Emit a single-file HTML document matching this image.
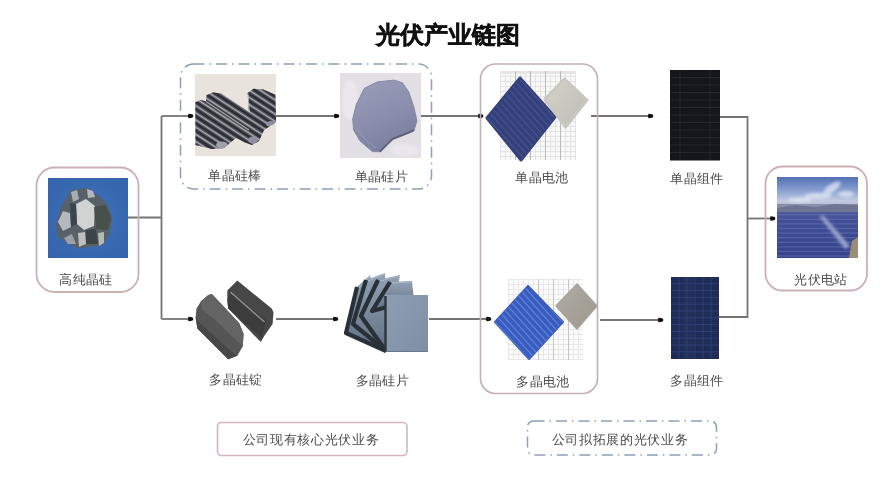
<!DOCTYPE html>
<html><head><meta charset="utf-8">
<style>
html,body{margin:0;padding:0;background:#fff;width:892px;height:486px;overflow:hidden}
#wrap{position:absolute;left:0;top:0;width:892px;height:486px;filter:blur(0.5px)}
svg{position:absolute;left:0;top:0}
.lb{position:absolute;font-family:"Liberation Serif",serif;font-size:13.4px;color:#4c4c4c;letter-spacing:0.4px;white-space:nowrap;transform:translateX(-50%);line-height:1}
.tt{position:absolute;font-family:"Liberation Sans",sans-serif;font-size:24px;font-weight:bold;color:#111;white-space:nowrap;line-height:1;-webkit-text-stroke:0.5px #111}
</style></head><body><div id="wrap">
<svg width="892" height="486" viewBox="0 0 892 486">
<defs>
  <marker id="ar" viewBox="0 0 10 10" refX="9" refY="5" markerWidth="6.5" markerHeight="6.5" markerUnits="userSpaceOnUse" orient="auto"><path d="M2,1.6 Q9.5,1.6 9.5,5 Q9.5,8.4 2,8.4 Q0.5,5 2,1.6z" fill="#111"/></marker>
  <pattern id="grid" width="4" height="6" patternUnits="userSpaceOnUse"><rect width="4" height="6" fill="#f0f0ee"/><path d="M0,0V6M0,0H4" stroke="#c8c8cc" stroke-width="0.8"/></pattern>
  <linearGradient id="sky" x1="0" y1="0" x2="0" y2="1">
    <stop offset="0" stop-color="#5b78b6"/><stop offset="0.55" stop-color="#b9c3dc"/><stop offset="0.68" stop-color="#8a90a8"/><stop offset="1" stop-color="#3c4b8c"/>
  </linearGradient>
</defs>
<!-- lines -->
<g stroke="#747474" stroke-width="1.8" fill="none">
  <path d="M128,217.5 H161.5 M161.5,116 V319"/>
  <path d="M161.5,116 H193" marker-end="url(#ar)"/>
  <path d="M161.5,319 H193" marker-end="url(#ar)"/>
  <path d="M276,116 H339" marker-end="url(#ar)"/>
  <path d="M421,116 H483" marker-end="url(#ar)"/>
  <path d="M591,116 H653" marker-end="url(#ar)"/>
  <path d="M720,117 H747.5 V317 H719"/>
  <path d="M276,319 H338" marker-end="url(#ar)"/>
  <path d="M429,319 H491" marker-end="url(#ar)"/>
  <path d="M600,320 H663" marker-end="url(#ar)"/>
  <path d="M747.5,218.5 H775" marker-end="url(#ar)"/>
</g>
<!-- boxes -->
<rect x="36.5" y="167.5" width="102" height="124.5" rx="18" fill="none" stroke="#ccb0b4" stroke-width="1.8"/>
<rect x="765.5" y="166.5" width="101.5" height="124" rx="17" fill="none" stroke="#ccb0b4" stroke-width="1.8"/>
<rect x="480.5" y="64" width="117" height="329.5" rx="15" fill="none" stroke="#c6aeb5" stroke-width="1.6"/>
<rect x="180.5" y="64" width="251" height="125" rx="13" fill="none" stroke="#8fa0b8" stroke-width="1.5" stroke-dasharray="11,5,1.5,5"/>
<rect x="217.5" y="422.5" width="189.5" height="33" rx="4" fill="none" stroke="#d6b6bc" stroke-width="1.6"/>
<rect x="527.5" y="421" width="189" height="34" rx="6" fill="none" stroke="#8fa0b8" stroke-width="1.5" stroke-dasharray="11,5,1.5,5"/>

<!-- 高纯晶硅 -->
<g>
  <radialGradient id="bl" cx="0.5" cy="0.5" r="0.7"><stop offset="0" stop-color="#3f72ba"/><stop offset="1" stop-color="#3464aa"/></radialGradient>
  <rect x="48" y="178" width="80" height="80" fill="url(#bl)"/>
  <polygon points="56.3,225.2 60.6,207.9 70.7,190.6 88,187.8 99.6,196.4 106.8,203.6 112.5,218 109.6,233.9 102.4,245.4 77.9,248.3 66.4,242.5 57.8,236.8" fill="#586068"/>
  <polygon points="76,204 86,199 95,206 94,226 84,230 77,224" fill="#cfd3d2"/>
  <polygon points="58,222 63,211 70,213 71,227 63,231" fill="#b4b9be"/>
  <polygon points="78,233 85,232 86,244 79,247" fill="#bcc0bc"/>
  <polygon points="98,233 104,232 104,243 99,246" fill="#b4bab4"/>
  <polygon points="71,192 77,190 79,199 73,202" fill="#a8acb4"/>
  <polygon points="87,189 93,191 95,197 88,198" fill="#b4b8be"/>
  <polygon points="94,207 106,205 111,218 108,230 96,229" fill="#47504a"/>
  <polygon points="64,238 72,234 76,244 68,244" fill="#9aa0a6"/>
  <polygon points="70,203 76,204 77,224 71,227" fill="#3c4450"/>
  <polygon points="86,230 96,229 98,244 86,244" fill="#3c4448"/>
</g>
<!-- mono rods -->
<g>
  <rect x="195" y="74" width="81" height="82" fill="#e8e3dd"/>
  <clipPath id="rodclip"><polygon points="195.4,102.2 201,100 206,101.5 206.6,95.2 213,92.5 221,93.5 249,112 247.6,93 253.6,88.7 263.1,89.6 275.2,94.7 276.1,122 270,126 264,130 259,141 252,145 244,142 236,138 231,142 224,148 212,149 195.6,145"/></clipPath>
  <g clip-path="url(#rodclip)">
    <rect x="190" y="85" width="90" height="70" fill="#5c5c64"/>
    <g stroke="#2e2e36" stroke-width="2.6" transform="rotate(33 235 118)"><line x1="150" y1="72" x2="320" y2="72"/><line x1="150" y1="78" x2="320" y2="78"/><line x1="150" y1="84" x2="320" y2="84"/><line x1="150" y1="90" x2="320" y2="90"/><line x1="150" y1="96" x2="320" y2="96"/><line x1="150" y1="102" x2="320" y2="102"/><line x1="150" y1="108" x2="320" y2="108"/><line x1="150" y1="114" x2="320" y2="114"/><line x1="150" y1="120" x2="320" y2="120"/><line x1="150" y1="126" x2="320" y2="126"/><line x1="150" y1="132" x2="320" y2="132"/><line x1="150" y1="138" x2="320" y2="138"/><line x1="150" y1="144" x2="320" y2="144"/><line x1="150" y1="150" x2="320" y2="150"/><line x1="150" y1="156" x2="320" y2="156"/><line x1="150" y1="162" x2="320" y2="162"/></g>
    <g stroke="#b0b0ba" stroke-width="1.1" transform="rotate(33 235 118)"><line x1="150" y1="75" x2="320" y2="75"/><line x1="150" y1="81" x2="320" y2="81"/><line x1="150" y1="87" x2="320" y2="87"/><line x1="150" y1="93" x2="320" y2="93"/><line x1="150" y1="99" x2="320" y2="99"/><line x1="150" y1="105" x2="320" y2="105"/><line x1="150" y1="111" x2="320" y2="111"/><line x1="150" y1="117" x2="320" y2="117"/><line x1="150" y1="123" x2="320" y2="123"/><line x1="150" y1="129" x2="320" y2="129"/><line x1="150" y1="135" x2="320" y2="135"/><line x1="150" y1="141" x2="320" y2="141"/><line x1="150" y1="147" x2="320" y2="147"/><line x1="150" y1="153" x2="320" y2="153"/><line x1="150" y1="159" x2="320" y2="159"/><line x1="150" y1="165" x2="320" y2="165"/></g>
    <path d="M206,101.5 L249,130" stroke="#e0dcd6" stroke-width="1.4" opacity="0.7"/>
    <path d="M247.6,93 L249,112" stroke="#e0dcd6" stroke-width="1.5" opacity="0.8"/>
    <ellipse cx="222" cy="145" rx="6" ry="3.5" fill="#a0a0aa"/>
    <ellipse cx="253" cy="140" rx="5" ry="3.5" fill="#9090a0"/>
    <ellipse cx="271" cy="124" rx="5" ry="3" fill="#9090a0"/>
  </g>
</g>
<!-- mono wafer -->
<g>
  <rect x="340" y="73" width="81" height="85" fill="#e2e0e4"/>
  <ellipse cx="350" cy="100" rx="8" ry="20" fill="#eae8ec" filter="url(#sb)"/>
  <ellipse cx="405" cy="150" rx="14" ry="6" fill="#eae8ec" filter="url(#sb)"/>
  <linearGradient id="wg" x1="0.2" y1="0" x2="0.6" y2="1"><stop offset="0" stop-color="#989cb8"/><stop offset="0.55" stop-color="#8a8eac"/><stop offset="1" stop-color="#7a7e9e"/></linearGradient>
  <polygon points="364.4,88.3 377.1,82 394.3,80.1 402.5,82.9 408.8,91.9 414.2,108.2 416.9,120.9 414.2,130 408.8,132.6 392.5,139 387.1,144.4 379.8,151.7 372.6,151.7 359.9,140.8 353.6,129.9 352.7,119.1 356.3,104.6" fill="url(#wg)" stroke="#8488a6" stroke-width="1" stroke-linejoin="round"/>
  <polyline points="414.2,130 408.8,132.6 392.5,139 387.1,144.4 379.8,151.7" fill="none" stroke="#5c6078" stroke-width="2" stroke-linejoin="round"/>
  <polyline points="356,128 366,140 376,148" fill="none" stroke="#a4a8c0" stroke-width="0.8" opacity="0.7"/>
</g>
<!-- mono cell -->
<g>
  <pattern id="grid2" x="500" y="76" width="5" height="5" patternUnits="userSpaceOnUse"><rect width="5" height="5" fill="#f8f8f7"/><path d="M0.5,0V5M0,0.5H5" stroke="#e0e0e4" stroke-width="0.8"/></pattern>
  <rect x="500" y="71" width="76" height="89" fill="url(#grid2)"/><rect x="500" y="71" width="76" height="3" fill="#e6e6e6"/>
  <g stroke="#b8b8c0" stroke-width="1"><line x1="515.5" y1="71" x2="515.5" y2="160"/><line x1="530.5" y1="71" x2="530.5" y2="160"/><line x1="545.5" y1="71" x2="545.5" y2="160"/><line x1="560.5" y1="71" x2="560.5" y2="160"/></g>
  <clipPath id="mc"><polygon points="520,78 555,117 521,160 487,118"/></clipPath>
  <polygon points="520,78 555,117 521,160 487,118" fill="#34407a" stroke="#34407a" stroke-width="3" stroke-linejoin="round"/>
  <g clip-path="url(#mc)"><g stroke="#4a5494" stroke-width="1.2" opacity="0.9" transform="rotate(48 521 118)"><line x1="461" y1="78" x2="581" y2="78"/><line x1="461" y1="83" x2="581" y2="83"/><line x1="461" y1="88" x2="581" y2="88"/><line x1="461" y1="93" x2="581" y2="93"/><line x1="461" y1="98" x2="581" y2="98"/><line x1="461" y1="103" x2="581" y2="103"/><line x1="461" y1="108" x2="581" y2="108"/><line x1="461" y1="113" x2="581" y2="113"/><line x1="461" y1="118" x2="581" y2="118"/><line x1="461" y1="123" x2="581" y2="123"/><line x1="461" y1="128" x2="581" y2="128"/><line x1="461" y1="133" x2="581" y2="133"/><line x1="461" y1="138" x2="581" y2="138"/><line x1="461" y1="143" x2="581" y2="143"/><line x1="461" y1="148" x2="581" y2="148"/><line x1="461" y1="153" x2="581" y2="153"/><line x1="461" y1="158" x2="581" y2="158"/></g></g>
  <linearGradient id="gd1" x1="0" y1="0" x2="1" y2="1"><stop offset="0" stop-color="#d4d4cc"/><stop offset="1" stop-color="#bcbcb4"/></linearGradient>
  <polygon points="564.5,79 587,100 565.5,127 545,99" fill="url(#gd1)" stroke="#c8c8c0" stroke-width="3" stroke-linejoin="round"/>
</g>
<!-- mono module -->
<rect x="670" y="70" width="50" height="90.5" fill="#15151c"/><g stroke="#2a2a34" stroke-width="0.8"><line x1="670" y1="77.5" x2="720" y2="77.5"/><line x1="670" y1="85.0" x2="720" y2="85.0"/><line x1="670" y1="92.5" x2="720" y2="92.5"/><line x1="670" y1="100.0" x2="720" y2="100.0"/><line x1="670" y1="107.5" x2="720" y2="107.5"/><line x1="670" y1="115.0" x2="720" y2="115.0"/><line x1="670" y1="122.5" x2="720" y2="122.5"/><line x1="670" y1="130.0" x2="720" y2="130.0"/><line x1="670" y1="137.5" x2="720" y2="137.5"/><line x1="670" y1="145.0" x2="720" y2="145.0"/><line x1="670" y1="152.5" x2="720" y2="152.5"/><line x1="680" y1="70" x2="680" y2="160"/><line x1="710" y1="70" x2="710" y2="160"/></g>
<!-- station -->
<g>
  <filter id="sb" x="-20%" y="-20%" width="140%" height="140%"><feGaussianBlur stdDeviation="1.6"/></filter>
  <clipPath id="stc"><rect x="777" y="177" width="81" height="81"/></clipPath>
  <linearGradient id="sky2" x1="0" y1="0" x2="0" y2="1">
    <stop offset="0" stop-color="#5270b4"/><stop offset="0.5" stop-color="#8ca2d2"/><stop offset="0.85" stop-color="#c2cae2"/><stop offset="1" stop-color="#b4bcd4"/>
  </linearGradient>
  <linearGradient id="pan" x1="0" y1="0" x2="0" y2="1">
    <stop offset="0" stop-color="#4e5a9c"/><stop offset="0.2" stop-color="#424e96"/><stop offset="1" stop-color="#36438a"/>
  </linearGradient>
  <g clip-path="url(#stc)">
  <rect x="777" y="177" width="81" height="28" fill="url(#sky2)"/>
  <g filter="url(#sb)" fill="#e2e8f4" opacity="0.75">
    <ellipse cx="832" cy="188" rx="10" ry="4" transform="rotate(-35 832 188)"/>
    <ellipse cx="818" cy="196" rx="14" ry="3"/>
    <ellipse cx="846" cy="194" rx="8" ry="3"/>
    <ellipse cx="800" cy="200" rx="12" ry="2.5"/>
  </g>
  <rect x="777" y="204" width="81" height="8" fill="#8a90aa"/>
  <path d="M777,208 L795,205 L815,207 L835,204 L858,205 L858,212 L777,212z" fill="#6e7694"/>
  <rect x="777" y="212" width="81" height="46" fill="url(#pan)"/>
  <rect x="777" y="214.0" width="81" height="1.3" fill="#6a78b4" opacity="0.5"/><rect x="777" y="218.6" width="81" height="1.3" fill="#6a78b4" opacity="0.5"/><rect x="777" y="223.2" width="81" height="1.3" fill="#6a78b4" opacity="0.5"/><rect x="777" y="227.8" width="81" height="1.3" fill="#6a78b4" opacity="0.5"/><rect x="777" y="232.4" width="81" height="1.3" fill="#6a78b4" opacity="0.5"/><rect x="777" y="237.0" width="81" height="1.3" fill="#6a78b4" opacity="0.5"/><rect x="777" y="241.6" width="81" height="1.3" fill="#6a78b4" opacity="0.5"/><rect x="777" y="246.2" width="81" height="1.3" fill="#6a78b4" opacity="0.5"/><rect x="777" y="250.8" width="81" height="1.3" fill="#6a78b4" opacity="0.5"/><rect x="777" y="255.4" width="81" height="1.3" fill="#6a78b4" opacity="0.5"/>
  <polygon points="819,216 824,216 850,246 845,249" fill="#a4aed6" opacity="0.85" filter="url(#sb)"/>
  <polygon points="852,241 858,237 858,258 849,258" fill="#9a8e76"/>
  </g>
</g>
<!-- poly ingots -->
<g>
  <polygon points="227.3,290.5 237.3,280.5 271.7,308.6 273.5,312.2 272.6,324 264.4,335.8 260.8,342.1 228.2,308.6 227.3,299.5" fill="#474747"/>
  <polygon points="227.3,299.5 232,292 266,320 262,338 228.2,308.6" fill="#3c3c3c"/>
  <line x1="231" y1="292.5" x2="264" y2="321.5" stroke="#8e8e8e" stroke-width="1.6" stroke-linecap="round"/>
  <polygon points="196.5,308.6 201,301.3 208.3,295 211.9,294.1 239.1,323.1 243.6,333.9 242.7,346.6 237.3,355.7 228.2,359.3 197.4,328.5 195.6,317.6" fill="#555555"/>
  <polygon points="201,301.3 208.3,295 211.9,294.1 239.1,323.1 243.6,333.9 242.7,346.6 236,340 213,318 202,310" fill="#646464"/>
  <polygon points="197.4,328.5 195.6,317.6 199,322 232,352 237.3,355.7 228.2,359.3" fill="#474747"/>
</g>
<!-- poly wafers -->
<g>
  <linearGradient id="pw" x1="0" y1="0" x2="0" y2="1"><stop offset="0" stop-color="#92a0b4"/><stop offset="1" stop-color="#627084"/></linearGradient>
  <linearGradient id="pwf" x1="0" y1="0" x2="1" y2="1"><stop offset="0" stop-color="#8e9eb4"/><stop offset="1" stop-color="#7e8ea4"/></linearGradient>
  <polygon points="357,287 370,275 386,351 346,333" fill="url(#pw)"/>
  <polyline points="357,287 346,333 386,351" fill="none" stroke="#2a3038" stroke-width="4.2" stroke-linejoin="round"/>
  <line x1="359" y1="288" x2="370" y2="276" stroke="#b4c0d0" stroke-width="1" opacity="0.8"/>
  <polygon points="366,280 385,273 386,351 353,324" fill="url(#pw)"/>
  <polyline points="366,280 353,324 386,351" fill="none" stroke="#2a3038" stroke-width="4.2" stroke-linejoin="round"/>
  <line x1="368" y1="281" x2="385" y2="274" stroke="#b4c0d0" stroke-width="1" opacity="0.8"/>
  <polygon points="378,280 400,275 386,351 361,316" fill="url(#pw)"/>
  <polyline points="378,280 361,316 386,351" fill="none" stroke="#2a3038" stroke-width="4.2" stroke-linejoin="round"/>
  <line x1="380" y1="281" x2="400" y2="276" stroke="#b4c0d0" stroke-width="1" opacity="0.8"/>
  <polygon points="390,282 412,281 414,300 372,311" fill="url(#pw)"/>
  <polyline points="390,282 372,311 414,300" fill="none" stroke="#2a3038" stroke-width="4.2" stroke-linejoin="round"/>
  <line x1="392" y1="283" x2="412" y2="282" stroke="#b4c0d0" stroke-width="1" opacity="0.8"/>
  <rect x="385" y="295" width="43" height="57" fill="url(#pwf)"/>
  <line x1="385.5" y1="296" x2="385.5" y2="352" stroke="#2e343c" stroke-width="2.4"/>
  <line x1="386" y1="351.5" x2="428" y2="351.5" stroke="#6a788c" stroke-width="1"/>
</g>
<!-- poly cell -->
<g>
  <pattern id="grid3" x="508" y="279" width="5" height="5" patternUnits="userSpaceOnUse"><rect width="5" height="5" fill="#fafaf9"/><path d="M0.5,0V5M0,0.5H5" stroke="#e4e4e8" stroke-width="0.8"/></pattern>
  <rect x="508" y="279" width="75" height="81" fill="url(#grid3)"/>
  <g stroke="#c4c4cc" stroke-width="1"><line x1="538.5" y1="279" x2="538.5" y2="360"/><line x1="553.5" y1="279" x2="553.5" y2="360"/><line x1="568.5" y1="279" x2="568.5" y2="360"/></g>
  <clipPath id="pc"><polygon points="528,286 563,322 529,359 495,322"/></clipPath>
  <polygon points="528,286 563,322 529,359 495,322" fill="#3a5cbe" stroke="#3a5cbe" stroke-width="2" stroke-linejoin="round"/>
  <g clip-path="url(#pc)"><g stroke="#6088dc" stroke-width="1.3" opacity="0.9" transform="rotate(48 529 322)"><line x1="469" y1="282" x2="589" y2="282"/><line x1="469" y1="287" x2="589" y2="287"/><line x1="469" y1="292" x2="589" y2="292"/><line x1="469" y1="297" x2="589" y2="297"/><line x1="469" y1="302" x2="589" y2="302"/><line x1="469" y1="307" x2="589" y2="307"/><line x1="469" y1="312" x2="589" y2="312"/><line x1="469" y1="317" x2="589" y2="317"/><line x1="469" y1="322" x2="589" y2="322"/><line x1="469" y1="327" x2="589" y2="327"/><line x1="469" y1="332" x2="589" y2="332"/><line x1="469" y1="337" x2="589" y2="337"/><line x1="469" y1="342" x2="589" y2="342"/><line x1="469" y1="347" x2="589" y2="347"/><line x1="469" y1="352" x2="589" y2="352"/><line x1="469" y1="357" x2="589" y2="357"/><line x1="469" y1="362" x2="589" y2="362"/></g></g>
  <linearGradient id="gd2" x1="0" y1="0" x2="1" y2="1"><stop offset="0" stop-color="#b0aca4"/><stop offset="1" stop-color="#9c988e"/></linearGradient>
  <polygon points="577,284 597,306 577,329 556,306" fill="url(#gd2)" stroke="#a8a49c" stroke-width="1.5" stroke-linejoin="round"/>
</g>
<!-- poly module -->
<rect x="671" y="277" width="48" height="82" fill="#1f2c55"/><rect x="683" y="277" width="10" height="82" fill="#24365e" opacity="0.6"/><g stroke="#34427a" stroke-width="0.8"><line x1="671" y1="283.8" x2="719" y2="283.8"/><line x1="671" y1="290.6" x2="719" y2="290.6"/><line x1="671" y1="297.4" x2="719" y2="297.4"/><line x1="671" y1="304.2" x2="719" y2="304.2"/><line x1="671" y1="311.0" x2="719" y2="311.0"/><line x1="671" y1="317.8" x2="719" y2="317.8"/><line x1="671" y1="324.6" x2="719" y2="324.6"/><line x1="671" y1="331.4" x2="719" y2="331.4"/><line x1="671" y1="338.2" x2="719" y2="338.2"/><line x1="671" y1="345.0" x2="719" y2="345.0"/><line x1="671" y1="351.8" x2="719" y2="351.8"/><line x1="679.0" y1="277" x2="679.0" y2="359"/><line x1="687.0" y1="277" x2="687.0" y2="359"/><line x1="695.0" y1="277" x2="695.0" y2="359"/><line x1="703.0" y1="277" x2="703.0" y2="359"/><line x1="711.0" y1="277" x2="711.0" y2="359"/></g>
</svg>
<div class="tt" style="left:376px;top:23px">光伏产业链图</div>
<div class="lb" style="left:235px;top:169px">单晶硅棒</div>
<div class="lb" style="left:381.5px;top:170px">单晶硅片</div>
<div class="lb" style="left:542px;top:171px">单晶电池</div>
<div class="lb" style="left:697px;top:172px">单晶组件</div>
<div class="lb" style="left:86px;top:273px">高纯晶硅</div>
<div class="lb" style="left:821px;top:273px">光伏电站</div>
<div class="lb" style="left:236px;top:373px">多晶硅锭</div>
<div class="lb" style="left:382.5px;top:374px">多晶硅片</div>
<div class="lb" style="left:543px;top:375px">多晶电池</div>
<div class="lb" style="left:697px;top:374px">多晶组件</div>
<div class="lb" style="left:311px;top:433px;font-size:13.4px;letter-spacing:0.65px">公司现有核心光伏业务</div>
<div class="lb" style="left:620px;top:433px;font-size:13.4px;letter-spacing:0.65px">公司拟拓展的光伏业务</div>
</div></body></html>
